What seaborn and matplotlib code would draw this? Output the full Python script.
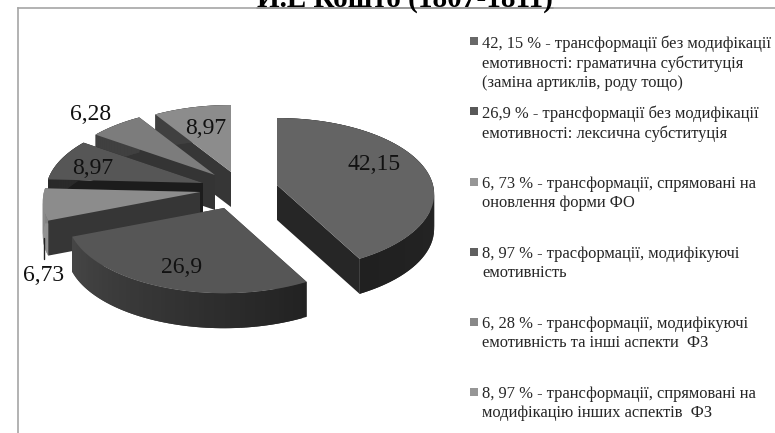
import numpy as np
import matplotlib
matplotlib.use("Agg")
import matplotlib.pyplot as plt
from matplotlib.patches import Polygon
import seaborn as sns

# Shares of the transformation types, percent
values = [42.15, 26.9, 6.73, 8.97, 6.28, 8.97]
value_labels = ["42,15", "26,9", "6,73", "8,97", "6,28", "8,97"]
legend_texts = [
    "42, 15 % - трансформації без модифікації\nемотивності: граматична субституція\n(заміна артиклів, роду тощо)",
    "26,9 % - трансформації без модифікації\nемотивності: лексична субституція",
    "6, 73 % - трансформації, спрямовані на\nоновлення форми ФО",
    "8, 97 % - трасформації, модифікуючі\nемотивність",
    "6, 28 % - трансформації, модифікуючі\nемотивність та інші аспекти  ФЗ",
    "8, 97 % - трансформації, спрямовані на\nмодифікацію інших аспектів  ФЗ",
]
title_text = "И.Е Кошто (1807-1811)"

# Greys of the slice tops, radial sides and outer walls
top_colors = ["#646464", "#565656", "#8c8c8c", "#565656", "#7c7c7c", "#8c8c8c"]
side_colors = ["#262626", "#333333", "#363636", "#1c1c1c", "#343434", "#363636"]
wall_light = ["#2c2c2c", "#464646", "#8a8a8a", "#2a2a2a", "#404040", "#404040"]
wall_dark = ["#202020", "#222222", "#8a8a8a", "#2a2a2a", "#404040", "#404040"]
legend_colors = ["#686868", "#585858", "#969696", "#606060", "#888888", "#969696"]

# Apex of every exploded slice, and the label anchors
apex_x = [277, 224, 200, 203, 215, 231]
apex_y = [185, 208, 192, 183, 175, 172]
label_x = [374, 182, 44, 93, 91, 206]
label_y = [165, 268, 276, 169, 114, 128]
legend_y = [35, 105, 176, 246, 316, 386]
marker_y = [41, 111, 182, 252, 322, 392]

RX, RY, PERSP, DEPTH = 156, 75, 0.12, 35

sns.set_theme(style="white")
plt.rcParams["font.family"] = ["Liberation Serif", "DejaVu Serif"]
top_palette = sns.color_palette(top_colors)
side_palette = sns.color_palette(side_colors)


def project(angle, ax0, ay0, radius=1.0):
    """Perspective projection of a disc point, angle clockwise from 12 o'clock."""
    u = radius * np.sin(angle)
    v = -radius * np.cos(angle)
    w = 1 / (1 - PERSP * v)
    return ax0 + RX * u * w, ay0 + RY * v * w


fig = plt.figure(figsize=(7.75, 4.33), dpi=100)
ax = fig.add_axes([18 / 775, 0, 757 / 775, 425 / 433])
ax.set_xlim(18, 775)
ax.set_ylim(433, 8)
ax.set_xticks([])
ax.set_yticks([])
for name in ("right", "bottom"):
    ax.spines[name].set_visible(False)
for name in ("left", "top"):
    ax.spines[name].set_color("#a6a6a6")
    ax.spines[name].set_linewidth(1.2)

edges = np.deg2rad(np.concatenate([[0], np.cumsum(values)]) * 3.6)

# Back slices are painted first so the nearer ones cover them
for i in reversed(range(len(values))):
    a0, a1 = edges[i], edges[i + 1]
    ax0, ay0 = apex_x[i], apex_y[i]
    theta = np.linspace(a0, a1, 60)
    xs, ys = project(theta, ax0, ay0)

    for end in (a1, a0):
        ex, ey = project(end, ax0, ay0)
        ax.add_patch(Polygon([(ax0, ay0), (ex, ey), (ex, ey + DEPTH), (ax0, ay0 + DEPTH)],
                             closed=True, fc=side_palette[i], ec="none"))

    # Outer wall built from overlapping facets to carry its shading
    light = np.array(matplotlib.colors.to_rgb(wall_light[i]))
    dark = np.array(matplotlib.colors.to_rgb(wall_dark[i]))
    for k in range(len(theta) - 1):
        t = k / (len(theta) - 2)
        col = dark + (light - dark) * t if i == 1 else light + (dark - light) * t
        stop = min(k + 2, len(theta) - 1)
        ax.add_patch(Polygon([(xs[k], ys[k]), (xs[stop], ys[stop]),
                              (xs[stop], ys[stop] + DEPTH), (xs[k], ys[k] + DEPTH)],
                             closed=True, fc=col, ec="none"))

    ax.add_patch(Polygon(np.vstack([[ax0, ay0], np.column_stack([xs, ys])]),
                         closed=True, fc=top_palette[i], ec="none"))

for x, y, s in zip(label_x, label_y, value_labels):
    ax.text(x, y, s, fontsize=17, color="#111111", ha="center", va="center")

# Leader from the small left slice to its label
ax.plot([44, 44], [238, 259], color="#222222", lw=1.0)

# Legend entries
for my, ty, col, txt in zip(marker_y, legend_y, legend_colors, legend_texts):
    ax.scatter([474], [my], marker="s", s=33, color=col, linewidths=0)
    ax.text(482, ty, txt, fontsize=11.9, color="#262626", va="top", ha="left", linespacing=1.28)

# Heading cut by the upper edge, with its rule along the frame
fig.text(405 / 775, 1 - 7 / 433, title_text, fontsize=21, fontweight="bold",
         color="black", ha="center", va="baseline")
ax.plot([257, 553], [8, 8], color="#444444", lw=1.2, clip_on=False)

fig.savefig("out.png", dpi=100)
